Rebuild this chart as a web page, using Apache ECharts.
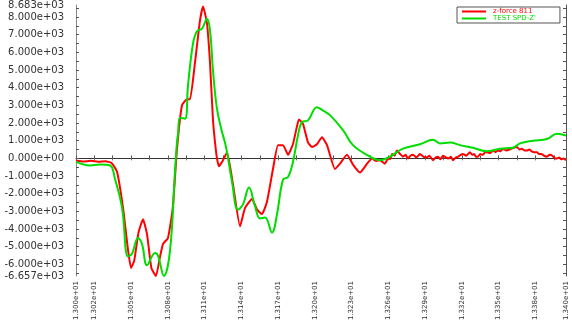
<!DOCTYPE html>
<html>
<head>
<meta charset="utf-8">
<script src="https://cdn.jsdelivr.net/npm/echarts@6/dist/echarts.min.js"></script>
<style>
  html, body { margin: 0; padding: 0; background: #fff; }
  #chart { width: 572px; height: 332px; }
</style>
</head>
<body>
<div id="chart"></div>
<script>
  // time (x) values and force values
  var redTime = [13.000, 13.006, 13.012, 13.018, 13.024, 13.029, 13.0335, 13.0384, 13.0425, 13.0449, 13.0475, 13.0510,
    13.0547, 13.0580, 13.0615, 13.0653, 13.0685, 13.0710, 13.0751, 13.0790, 13.0824, 13.0865, 13.0906, 13.0931,
    13.0971, 13.1012, 13.1037, 13.1069, 13.1094, 13.1118, 13.1135, 13.1151, 13.1167, 13.1200, 13.1233, 13.1282,
    13.1339, 13.1380, 13.1437, 13.1478, 13.1518, 13.1559, 13.1608, 13.1649, 13.1690, 13.1731, 13.1771, 13.1800,
    13.1820, 13.1853, 13.1894, 13.1927, 13.1967, 13.2008, 13.2049, 13.2114, 13.2155, 13.2212, 13.2261, 13.2318,
    13.2376, 13.2416, 13.2450, 13.2482, 13.2522, 13.2550, 13.2565, 13.2580, 13.2600, 13.2620, 13.2645, 13.2669,
    13.2690, 13.2710, 13.2730, 13.2751, 13.2780, 13.2808, 13.2835, 13.2860, 13.2885, 13.2914, 13.2935, 13.2955,
    13.2975, 13.2996, 13.3020, 13.3040, 13.3060, 13.3078, 13.3100, 13.3120, 13.3140, 13.3159, 13.3185, 13.3216,
    13.3235, 13.3250, 13.3265, 13.3282, 13.3300, 13.3320, 13.3340, 13.3355, 13.3380, 13.3404, 13.3425, 13.3445,
    13.3465, 13.3486, 13.3510, 13.3540, 13.3570, 13.3600, 13.3620, 13.3640, 13.3660, 13.3682, 13.3700, 13.3720,
    13.3740, 13.3763, 13.3780, 13.3800, 13.3820, 13.3845, 13.3865, 13.3890, 13.3910, 13.3927, 13.3945, 13.3960,
    13.3980, 13.4000];
  var redForce = [-120, -180, -140, -190, -160, -260, -750, -2800, -5200, -6200, -5800, -4200,
    -3450, -4300, -6200, -6650, -5600, -4850, -4500, -2800, 500, 3000, 3350, 3350,
    5400, 7800, 8600, 7650, 5400, 2200, 900, 0, -450, -100, 350, -1500,
    -3850, -2800, -2300, -2900, -3150, -2450, -600, 750, 750, 200, 800, 1700,
    2200, 1950, 900, 650, 800, 1200, 750, -600, -300, 200, -350, -800,
    -300, 0, -150, -100, -300, 50, -50, 250, 150, 450, 250, 100,
    200, 0, 150, 200, 50, 250, 100, 50, 150, -100, 50, 100,
    -50, 150, 50, 0, 100, -100, 50, 100, 200, 250, 150, 350,
    200, 250, 100, 100, 250, 200, 350, 350, 300, 450, 350, 450,
    400, 550, 450, 500, 600, 650, 500, 550, 450, 450, 500, 400,
    350, 350, 250, 250, 150, 100, 200, 150, 0, 0, 50, -50,
    0, -100];

  var greenTime = [13.000, 13.0114, 13.0196, 13.0278, 13.0318, 13.0376, 13.0424, 13.0457, 13.0506, 13.0539, 13.0580,
    13.0645, 13.0669, 13.0718, 13.0767, 13.0808, 13.0824, 13.0833, 13.0849, 13.0890, 13.0914, 13.0955, 13.0988,
    13.1029, 13.1069, 13.1094, 13.1118, 13.1151, 13.1192, 13.1216, 13.1233, 13.1273, 13.1322, 13.1363, 13.1412,
    13.1461, 13.1502, 13.1543, 13.1600, 13.1641, 13.1690, 13.1731, 13.1771, 13.1812, 13.1845, 13.1894, 13.1967,
    13.2008, 13.2073, 13.2180, 13.2261, 13.2376, 13.2482, 13.2563, 13.2669, 13.2808, 13.2914, 13.2971, 13.3053,
    13.3135, 13.3241, 13.3355, 13.3461, 13.3567, 13.3624, 13.3731, 13.3845, 13.3927, 13.4000];
  var greenForce = [-200, -400, -350, -400, -1150, -2800, -5550, -5400, -4500, -4850, -6050,
    -5350, -5500, -6650, -5250, -750, 900, 1400, 2300, 2250, 4100, 6500, 7200,
    7350, 7900, 7250, 5000, 2800, 1500, 900, 350, -1300, -2900, -2600, -1650,
    -2700, -3400, -3350, -4200, -3150, -1200, -1050, -200, 1300, 2050, 2150, 2900,
    2750, 2450, 1600, 750, 200, -100, 100, 550, 800, 1050, 850, 900,
    750, 600, 400, 550, 600, 850, 1000, 1100, 1400, 1300];

  var seriesNames = ['z-force 811', "TEST SPD-Z'"];
  var seriesColors = ['#ff0000', '#00dd00'];

  var yMin = -6657, yMax = 8683;
  var yLabelValues = [-6657, -6000, -5000, -4000, -3000, -2000, -1000, 0, 1000, 2000, 3000, 4000, 5000, 6000, 7000, 8000, 8683];
  var yLabelTexts = ['-6.657e+03', '-6.000e+03', '-5.000e+03', '-4.000e+03', '-3.000e+03', '-2.000e+03', '-1.000e+03',
    '0.000e+00', '1.000e+03', '2.000e+03', '3.000e+03', '4.000e+03', '5.000e+03', '6.000e+03', '7.000e+03',
    '8.000e+03', '8.683e+03'];
  var yTickValues = [-6500, -6000, -5500, -5000, -4500, -4000, -3500, -3000, -2500, -2000, -1500, -1000, -500, 0,
    500, 1000, 1500, 2000, 2500, 3000, 3500, 4000, 4500, 5000, 5500, 6000, 6500, 7000, 7500, 8000, 8500];

  var xMin = 13.0, xMax = 13.4;
  var xLabelValues = [13.0, 13.015, 13.045, 13.075, 13.105, 13.135, 13.165, 13.195, 13.225, 13.255, 13.285,
    13.315, 13.345, 13.375, 13.4];
  var xLabelTexts = ['1.300e+01', '1.302e+01', '1.305e+01', '1.308e+01', '1.311e+01', '1.314e+01', '1.317e+01',
    '1.320e+01', '1.323e+01', '1.326e+01', '1.329e+01', '1.332e+01', '1.335e+01', '1.338e+01', '1.340e+01'];
  var xTickValues = [13.0, 13.015, 13.03, 13.045, 13.06, 13.075, 13.09, 13.105, 13.12, 13.135, 13.15, 13.165,
    13.18, 13.195, 13.21, 13.225, 13.24, 13.255, 13.27, 13.285, 13.3, 13.315, 13.33, 13.345, 13.36, 13.375,
    13.39, 13.4];

  function pairs(xs, ys) {
    return xs.map(function (x, i) { return [x, ys[i]]; });
  }
  function lookup(values, texts, v) {
    for (var i = 0; i < values.length; i++) {
      if (Math.abs(values[i] - v) < 1e-6 * Math.max(1, Math.abs(v))) return texts[i];
    }
    return '';
  }

  var chart = echarts.init(document.getElementById('chart'));
  var option = {
    animation: false,
    grid: {left: 76, right: 6, top: 2, bottom: 56},
    legend: {
      left: 457, top: 7,
      width: 103,
      orient: 'vertical',
      icon: 'rect',
      itemWidth: 24, itemHeight: 2, itemGap: 0,
      padding: [1, 24, 1, 5],
      borderColor: '#555', borderWidth: 1,
      textStyle: {fontFamily: 'DejaVu Sans', fontSize: 7, padding: [0, 0, 0, 2]},
      data: [
        {name: seriesNames[0], textStyle: {color: seriesColors[0]}},
        {name: seriesNames[1], textStyle: {color: seriesColors[1]}}
      ]
    },
    xAxis: [
      {
        type: 'value', position: 'bottom', min: xMin, max: xMax,
        splitLine: {show: false},
        axisLine: {lineStyle: {color: '#333'}},
        axisTick: {inside: true, length: 3, customValues: xTickValues, lineStyle: {color: '#555'}},
        axisLabel: {
          customValues: xLabelValues, rotate: 90, margin: 5,
          fontFamily: 'DejaVu Sans', fontSize: 7, color: '#333',
          formatter: function (v) { return lookup(xLabelValues, xLabelTexts, v); }
        }
      },
      {
        type: 'value', position: 'top', min: xMin, max: xMax,
        splitLine: {show: false},
        axisLine: {show: false},
        axisTick: {inside: true, length: 2, customValues: xTickValues, lineStyle: {color: '#777'}},
        axisLabel: {show: false}
      }
    ],
    yAxis: [
      {
        type: 'value', position: 'left', min: yMin, max: yMax,
        splitLine: {show: false},
        axisLine: {show: true, lineStyle: {color: '#888'}},
        axisTick: {show: true, inside: true, length: 3, customValues: yTickValues, lineStyle: {color: '#555'}},
        axisLabel: {
          customValues: yLabelValues, margin: 12,
          fontFamily: 'DejaVu Sans', fontSize: 10, color: '#333',
          formatter: function (v) { return lookup(yLabelValues, yLabelTexts, v); }
        }
      },
      {
        type: 'value', position: 'right', min: yMin, max: yMax,
        splitLine: {show: false},
        axisLine: {show: true, lineStyle: {color: '#555'}},
        axisTick: {show: true, inside: true, length: 3, customValues: yTickValues, lineStyle: {color: '#555'}},
        axisLabel: {show: false}
      }
    ],
    series: [
      {
        name: seriesNames[0], type: 'line', showSymbol: false,
        data: pairs(redTime, redForce),
        smooth: 0.15,
        lineStyle: {color: seriesColors[0], width: 2},
        itemStyle: {color: seriesColors[0]}
      },
      {
        name: seriesNames[1], type: 'line', showSymbol: false,
        data: pairs(greenTime, greenForce),
        smooth: 0.4,
        lineStyle: {color: seriesColors[1], width: 2},
        itemStyle: {color: seriesColors[1]}
      }
    ]
  };
  chart.setOption(option);
</script>
</body>
</html>
